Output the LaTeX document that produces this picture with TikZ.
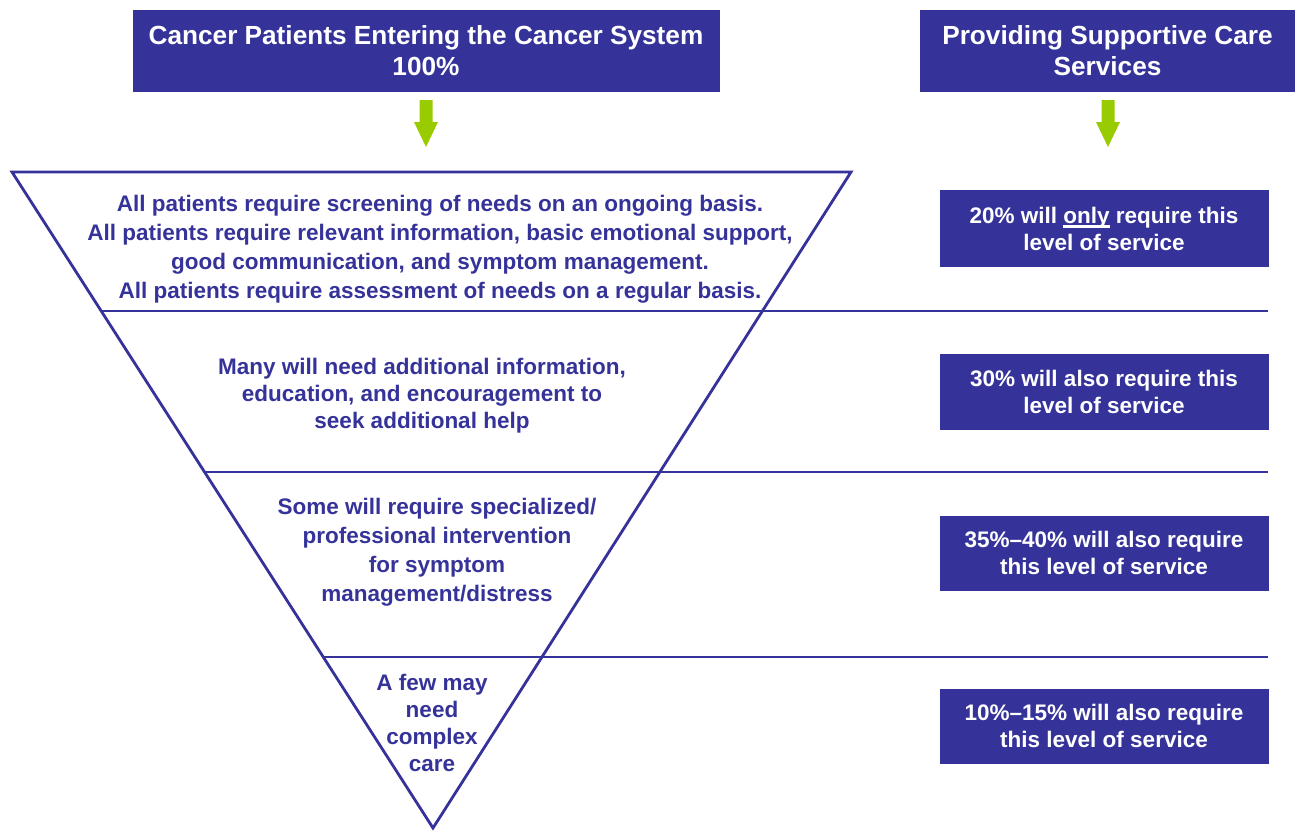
\documentclass[tikz,border=0pt]{standalone}
\usepackage{fontspec}
\setmainfont{Liberation Sans}
\definecolor{navy}{HTML}{353399}
\definecolor{leaf}{HTML}{99CC00}
\newcommand\onlyline[1]{\setbox0\hbox{#1}\rlap{\color{white}\rule[-4.5pt]{\wd0}{2.5pt}}\box0}
\begin{document}
\begin{tikzpicture}[x=1pt,y=-1pt,
  titlebox/.style={fill=navy, draw=navy, text=white, font=\fontsize{26.2}{31}\selectfont\bfseries, align=center, inner sep=0pt},
  levelbox/.style={fill=navy, draw=navy, text=white, font=\fontsize{22.5}{27}\selectfont\bfseries, align=center, inner sep=0pt, minimum width=328, minimum height=76},
  leveltext/.style={text=navy, font=\fontsize{22.5}{29}\selectfont\bfseries, align=center, inner sep=0pt},
  bar/.style={draw=navy, line width=2.8pt},
  greenarrow/.style={fill=leaf, draw=none}]
\useasboundingbox (0,0) rectangle (1295,830);
% title boxes
\node[titlebox, minimum width=586, minimum height=81] (t1) at (426,50.5) {Cancer Patients Entering the Cancer System\\100\%};
\node[titlebox, minimum width=375, minimum height=81] (t2) at (1107.5,50.5) {Providing Supportive Care\\Services};
% green arrows
\coordinate (a1) at (426,100);
\coordinate (a2) at (1108,100);
\foreach \c in {a1,a2}{
  \fill[greenarrow] ([xshift=-6.5]\c) -- ([xshift=6.5]\c) -- ([xshift=6.5,yshift=-22]\c) -- ([xshift=12,yshift=-22]\c)
    -- ([yshift=-47]\c) -- ([xshift=-12,yshift=-22]\c) -- ([xshift=-6.5,yshift=-22]\c) -- cycle;
}
% triangle
\coordinate (tl) at (12,172);
\coordinate (tr) at (851,172);
\coordinate (apex) at (433,828);
\draw[bar, line join=miter] (tl) -- (tr) -- (apex) -- cycle;
% separator lines
\coordinate (l1) at (101,311);
\coordinate (r1) at (1268,311);
\coordinate (l2) at (204,472);
\coordinate (r2) at (1268,472);
\coordinate (l3) at (323,657);
\coordinate (r3) at (1268,657);
\draw[bar] (l1) -- (r1);
\draw[bar] (l2) -- (r2);
\draw[bar] (l3) -- (r3);
% level texts
\node[leveltext] (x1) at (440,249) {All patients require screening of needs on an ongoing basis.\\All patients require relevant information, basic emotional support,\\good communication, and symptom management.\\All patients require assessment of needs on a regular basis.};
\node[leveltext, font=\fontsize{22.5}{27}\selectfont\bfseries] (x2) at (422,396) {Many will need additional information,\\education, and encouragement to\\seek additional help};
\node[leveltext] (x3) at (437,552) {Some will require specialized/\\professional intervention\\for symptom\\management/distress};
\node[leveltext, font=\fontsize{22.5}{27}\selectfont\bfseries] (x4) at (432,723) {A few may\\need\\complex\\care};
% right boxes
\node[levelbox] (b1) at (1104,228.5) {20\% will \onlyline{only}\ require this\\level of service};
\node[levelbox, minimum height=75] (b2) at (1104,391.5) {30\% will also require this\\level of service};
\node[levelbox, minimum height=74] (b3) at (1104,553) {35\%–40\% will also require\\this level of service};
\node[levelbox, minimum height=74] (b4) at (1104,726) {10\%–15\% will also require\\this level of service};
\end{tikzpicture}
\end{document}
